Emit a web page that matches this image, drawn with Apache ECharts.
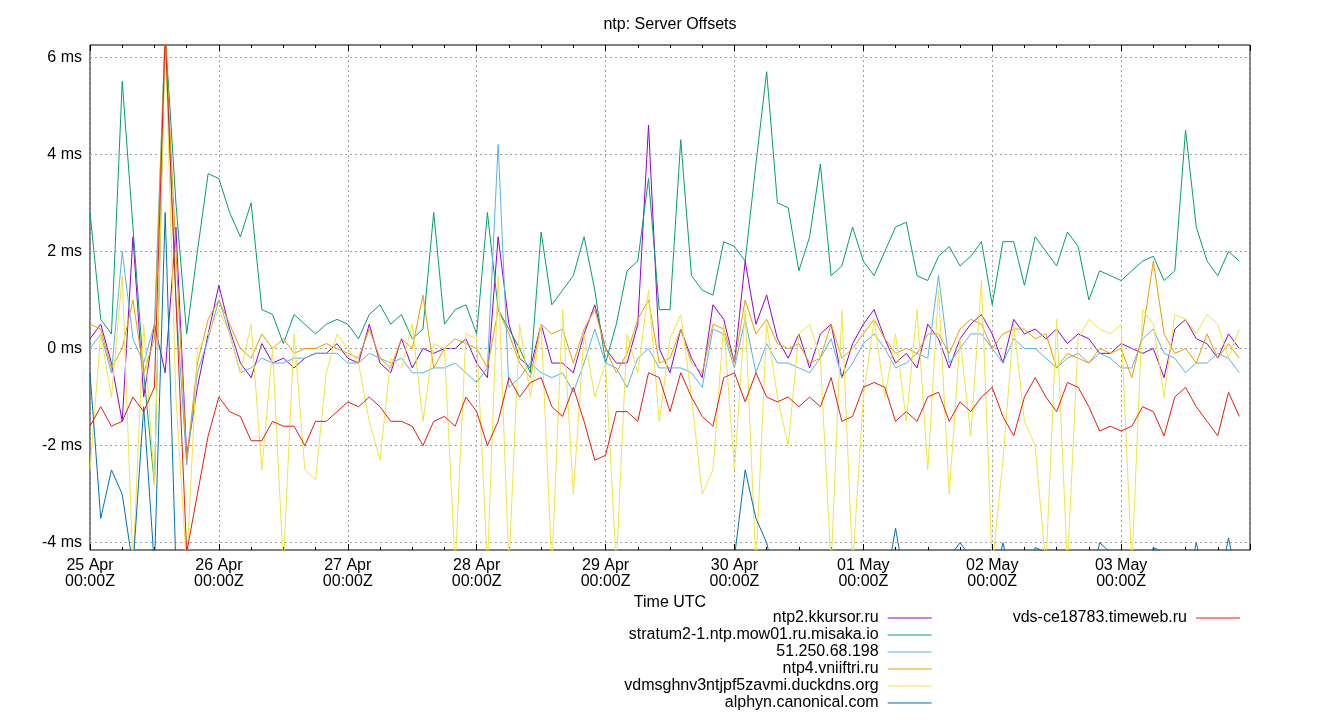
<!DOCTYPE html>
<html><head><meta charset="utf-8">
<script src="https://cdn.jsdelivr.net/npm/echarts@6/dist/echarts.min.js"></script>
<style>html,body{margin:0;padding:0;background:#fff}#c{width:1340px;height:720px}</style>
</head><body><div id="c"></div>
<script>
const dayLabels = ['25 Apr','26 Apr','27 Apr','28 Apr','29 Apr','30 Apr','01 May','02 May','03 May'];
const yTicks = [-4,-2,0,2,4,6];
const hours = []; for (let h = 0; h <= 214; h += 2) hours.push(h);
const names = ['ntp2.kkursor.ru','stratum2-1.ntp.mow01.ru.misaka.io','51.250.68.198','ntp4.vniiftri.ru','vdmsghnv3ntjpf5zavmi.duckdns.org','alphyn.canonical.com','vds-ce18783.timeweb.ru'];
const colors = ['#9400d3','#009e73','#56b4e9','#e69f00','#f0e442','#0072b2','#e51e10'];

const kkursor = [0.2,0.5,-0.3,-1.5,2.3,-1.0,0.5,-0.5,2.5,-2.2,-0.8,0.3,1.3,0.4,-0.3,-0.6,0.1,-0.3,-0.2,-0.4,-0.2,-0.1,-0.1,0.1,-0.2,-0.3,0.5,-0.3,-0.5,0.2,-0.4,0.0,-0.1,0.0,0.0,0.2,-0.3,-0.6,2.3,0.5,-0.2,-0.4,0.5,-0.3,-0.3,-0.5,0.3,0.9,0.0,-0.3,-0.3,0.5,4.6,0.0,-0.5,0.4,-0.2,-0.6,0.9,0.6,-0.3,1.8,0.5,1.1,0.2,-0.2,0.3,-0.4,0.3,0.5,-0.6,0.1,0.5,0.8,0.2,-0.3,-0.1,-0.4,0.5,0.2,-0.4,0.2,0.5,0.7,0.3,-0.3,0.6,0.3,0.4,0.2,0.4,0.1,0.3,0.2,-0.1,-0.1,0.1,0.0,-0.1,0.0,-0.6,0.4,0.6,0.2,0.1,-0.2,0.3,0.0];
const misaka = [2.8,0.6,0.3,5.5,2.5,-0.5,-2.8,6.5,3.0,0.3,2.0,3.6,3.5,2.8,2.3,3.0,0.8,0.7,0.1,0.7,0.5,0.3,0.5,0.6,0.5,0.2,0.7,0.9,0.5,0.7,0.2,0.4,2.8,0.5,0.8,0.9,0.3,2.8,0.8,0.4,0.0,-0.5,2.4,0.9,1.2,1.5,2.3,1.2,-0.3,0.5,1.6,1.8,3.5,0.8,0.8,4.3,1.5,1.2,1.1,2.2,2.1,1.8,3.8,5.7,3.0,2.9,1.6,2.3,3.8,1.5,1.7,2.5,1.8,1.5,2.0,2.5,2.6,1.5,1.4,1.9,2.1,1.7,1.9,2.2,0.9,2.2,2.2,1.3,2.3,2.0,1.7,2.4,2.1,1.0,1.6,1.5,1.4,1.6,1.8,1.9,1.4,1.6,4.5,2.5,1.8,1.5,2.0,1.8];
const ip51 = [0.0,0.3,-0.5,2.0,0.2,-0.3,0.5,6.5,1.0,-2.4,-0.5,0.2,1.0,0.3,-0.5,-0.4,-0.2,-0.3,-0.3,-0.2,-0.2,-0.1,-0.1,-0.1,-0.3,-0.3,-0.1,-0.2,-0.3,-0.2,-0.5,-0.5,-0.4,-0.4,-0.3,-0.5,-0.7,-0.4,4.2,-0.8,-0.6,-0.3,-0.5,-0.6,-0.5,-0.9,-0.3,0.4,-0.3,-0.4,-0.8,-0.2,0.0,-0.4,-0.4,-0.4,-0.5,-0.8,0.4,0.3,-0.4,0.6,-0.5,0.1,-0.3,-0.3,-0.4,-0.5,-0.2,0.2,-0.6,-0.3,0.1,0.3,0.0,-0.4,-0.3,-0.1,-0.2,1.5,-0.3,0.0,0.3,0.3,0.0,-0.3,0.2,0.0,0.0,-0.2,-0.4,-0.2,-0.1,-0.3,-0.1,-0.2,-0.4,-0.4,0.2,0.4,-0.1,-0.2,-0.5,-0.3,-0.3,-0.1,-0.2,-0.5];
const vniiftri = [0.5,0.4,-0.4,0.0,1.0,-0.5,0.2,6.5,2.0,-2.3,-0.3,0.6,1.0,0.5,0.0,-0.2,0.3,0.0,0.2,-0.1,0.0,0.0,0.1,0.0,-0.1,-0.2,0.4,-0.2,-0.4,0.2,0.0,1.1,-0.4,0.0,0.2,0.1,0.0,-0.4,0.8,0.3,-0.3,-0.6,0.5,0.3,0.4,-0.3,0.4,0.8,0.0,-0.5,-0.1,0.6,1.0,-0.3,-0.2,0.4,-0.3,-0.5,0.5,0.4,-0.3,1.0,0.3,0.6,0.1,0.0,0.1,-0.3,-0.2,0.5,-0.2,0.0,0.3,0.6,0.2,-0.1,0.0,-0.1,0.3,0.3,-0.1,0.4,0.6,0.5,0.0,0.3,0.4,0.4,0.2,0.3,-0.4,-0.1,-0.2,-0.3,0.0,-0.1,0.0,-0.6,0.3,1.8,0.3,-0.1,0.0,-0.3,0.3,-0.2,0.1,-0.2];
const duckdns = [-2.5,0.3,-1.0,1.5,-4.5,0.5,-2.8,6.5,-1.0,-4.5,0.0,0.3,0.8,0.3,-0.5,0.5,-2.5,0.0,-4.5,0.3,-2.5,-2.7,-0.5,0.3,0.0,-0.3,-1.5,-2.3,-0.2,-0.4,0.5,-1.5,0.1,0.0,-4.5,0.3,0.2,-4.5,1.5,-4.5,0.5,-1.0,0.5,-4.5,0.8,-3.0,0.3,-1.0,-0.3,-4.5,0.3,-0.5,1.2,-1.5,0.2,0.7,-1.0,-3.0,-2.5,0.5,-2.5,0.8,-4.5,0.5,-1.0,-2.0,0.3,0.5,-0.2,-4.5,0.8,-4.5,-1.0,0.6,-1.0,0.3,-1.5,0.8,-2.5,1.2,-3.0,0.2,-1.8,1.4,-4.5,-2.3,0.5,-1.5,-2.0,-4.5,0.6,-4.5,0.2,0.6,0.4,0.3,0.5,-4.5,0.8,0.5,-1.0,0.7,0.6,0.3,0.7,0.5,-0.2,0.4];
const alphyn = [-0.5,-3.5,-2.5,-3.0,-4.5,-1.2,-4.5,2.8,-4.5,-5,-5,-5,-5,-5,-5,-5,-5,-5,-5,-5,-5,-5,-5,-5,-5,-5,-5,-5,-5,-5,-5,-5,-5,-5,-5,-5,-5,-5,-5,-5,-5,-5,-5,-4.5,-5,-5,-5,-5,-5,-5,-5,-5,-5,-5,-5,-5,-5,-5,-5,-5,-4.3,-2.5,-3.5,-4.0,-5,-5,-5,-5,-5,-5,-4.3,-5,-5,-5,-5,-3.7,-5,-5,-5,-5,-4.3,-4.0,-4.3,-5,-5,-4.0,-5,-5,-4.1,-4.2,-5,-5,-5,-5,-4.0,-4.2,-5,-5,-5,-4.1,-4.2,-5,-5,-4.0,-5,-5,-3.9,-5];
const timeweb = [-1.6,-1.2,-1.6,-1.5,-1.0,-1.3,-0.8,6.5,1.0,-4.2,-3.0,-1.8,-1.0,-1.3,-1.4,-1.9,-1.9,-1.5,-1.6,-1.6,-2.0,-1.5,-1.5,-1.3,-1.1,-1.2,-1.0,-1.2,-1.5,-1.5,-1.6,-2.0,-1.5,-1.4,-1.6,-1.0,-1.3,-2.0,-1.5,-0.6,-1.0,-0.7,-0.6,-1.2,-1.4,-0.8,-1.5,-2.3,-2.2,-1.3,-1.3,-1.5,-0.5,-0.6,-1.3,-0.5,-1.0,-1.4,-1.6,-0.6,-0.5,-1.1,-0.5,-1.0,-1.1,-1.0,-1.2,-1.0,-1.2,-0.6,-1.5,-1.4,-0.8,-0.7,-0.8,-1.5,-1.3,-1.5,-1.0,-0.9,-1.5,-1.1,-1.3,-1.0,-0.8,-1.4,-1.8,-1.0,-0.6,-1.0,-1.3,-0.7,-0.8,-1.2,-1.7,-1.6,-1.7,-1.6,-1.2,-1.3,-1.8,-1.0,-0.8,-1.2,-1.5,-1.8,-0.9,-1.4];

const values = [kkursor, misaka, ip51, vniiftri, duckdns, alphyn, timeweb];
const FONT = 'Liberation Sans';
const FS = 16;
const series = values.map((arr, i) => ({
  name: names[i], type: 'line', symbol: 'none', showSymbol: false,
  data: hours.map((h, k) => [h, arr[k]]).filter(p => p[1] !== undefined),
  lineStyle: { width: 1, color: colors[i] }, itemStyle: { color: colors[i] },
  clip: true, z: 3 + i
}));
series.push({
  type: 'line', data: [], silent: true, z: 1,
  markLine: {
    symbol: 'none', silent: true, animation: false,
    lineStyle: { type: [2, 3], color: '#a0a0a0', width: 1 },
    label: { position: 'start', distance: 8, color: '#000', fontFamily: FONT, fontSize: FS, formatter: p => p.value + ' ms' },
    data: yTicks.map(v => ({ yAxis: v }))
  }
});

const xBase = {
  type: 'value', min: 0, max: 216, interval: 24,
  axisLine: { show: false, onZero: false },
  axisTick: { show: true, inside: true, length: 6, lineStyle: { color: '#000' } },
  minorTick: { show: true, splitNumber: 4, length: 3, lineStyle: { color: '#000' } },
};
const chart = echarts.init(document.getElementById('c'));
chart.setOption({
  animation: false,
  backgroundColor: '#fff',
  title: { text: 'ntp: Server Offsets', left: 'center', top: 12, textStyle: { fontFamily: FONT, fontSize: FS, fontWeight: 'normal', color: '#000' } },
  grid: { left: 90, right: 90, top: 45, bottom: 170, show: true, borderColor: '#000', borderWidth: 1 },
  xAxis: [
    Object.assign({}, xBase, {
      position: 'bottom', name: 'Time UTC', nameLocation: 'middle', nameGap: 44,
      nameTextStyle: { fontFamily: FONT, fontSize: FS, color: '#000' },
      axisLabel: { showMaxLabel: false, color: '#000', fontFamily: FONT, fontSize: FS, lineHeight: 16,
        formatter: v => { const i = Math.round(v / 24); return dayLabels[i] ? dayLabels[i] + '\n00:00Z' : ''; } },
      splitLine: { show: true, lineStyle: { type: [2, 3], color: '#a0a0a0' } }
    }),
    Object.assign({}, xBase, { position: 'top', axisLabel: { show: false }, splitLine: { show: false } })
  ],
  yAxis: { type: 'value', min: -4.15, max: 6.25, axisLabel: { show: false }, axisTick: { show: false }, axisLine: { show: false }, splitLine: { show: false } },
  legend: {
    orient: 'vertical', right: 95, top: 605, align: 'right', itemGap: 1,
    itemWidth: 44, itemHeight: 14, icon: 'path://M0,7L44,7L44,8L0,8Z',
    textStyle: { fontFamily: FONT, fontSize: FS, lineHeight: 14, color: '#000', padding: [0, 4, 0, 0] },
    data: names.map((n, i) => ({ name: n, itemStyle: { color: colors[i] } }))
  },
  series
});
</script></body></html>
